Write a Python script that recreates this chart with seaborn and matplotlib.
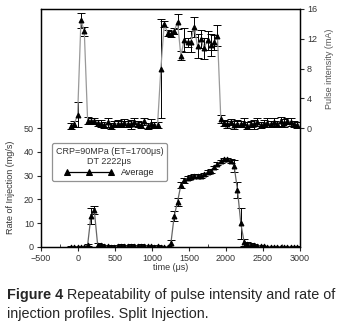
import matplotlib
import numpy as np
import pandas as pd
import matplotlib.pyplot as plt
import seaborn as sns

matplotlib.use('Agg')

# sample times (us)
time_us = [-95, -50, -5, 40, 85, 130, 175, 220, 265, 310, 355, 400, 445, 490, 535, 580,
           625, 670, 715, 760, 805, 850, 895, 940, 985, 1030, 1075, 1120, 1165, 1210,
           1255, 1300, 1345, 1390, 1435, 1480, 1525, 1570, 1615, 1660, 1705, 1750, 1795,
           1840, 1885, 1930, 1975, 2020, 2065, 2110, 2155, 2200, 2245, 2290, 2335, 2380,
           2425, 2470, 2515, 2560, 2605, 2650, 2695, 2740, 2785, 2830, 2875, 2920, 2965]

# pulse intensity (mA), right axis
pulse = [0.3, 0.6, 1.8, 14.5, 13.0, 1.0, 0.9, 1.0, 0.7, 0.6, 0.4, 0.8, 0.3, 0.5, 0.6, 0.5,
         0.7, 0.6, 0.5, 0.8, 0.6, 0.4, 0.9, 0.3, 0.6, 0.4, 0.4, 8.0, 14.0, 12.8,
         12.7, 13.0, 14.3, 9.7, 11.8, 11.5, 11.6, 13.6, 11.0, 12.0, 10.7, 11.8, 11.2,
         11.5, 12.4, 1.2, 0.7, 0.5, 0.8, 0.4, 0.6, 0.5, 0.7, 0.3, 0.6, 0.5,
         0.8, 0.4, 0.6, 0.7, 0.5, 0.8, 0.6, 0.9, 0.7, 1.0, 0.8, 0.5, 0.4]
pulse_err = [0.4, 0.4, 1.7, 1.0, 0.6, 0.5, 0.4, 0.4, 0.4, 0.5, 0.4, 0.6, 0.4, 0.4, 0.5, 0.4,
             0.5, 0.4, 0.6, 0.5, 0.4, 0.4, 0.5, 0.4, 0.6, 0.4, 0.4, 6.6, 0.4, 0.4,
             0.4, 0.4, 1.0, 0.6, 1.6, 0.6, 1.4, 1.3, 1.6, 1.2, 1.4, 1.3, 1.5,
             1.0, 1.4, 0.5, 0.4, 0.5, 0.4, 0.6, 0.5, 0.4, 0.6, 0.5, 0.4, 0.6,
             0.5, 0.4, 0.5, 0.6, 0.4, 0.5, 0.4, 0.6, 0.5, 0.4, 0.5, 0.4, 0.4]

# rate of injection (mg/s), left axis
rate = [0.2, 0.1, 0.0, 0.1, 0.2, 0.8, 13.0, 15.5, 1.0, 0.8, 0.5, 0.3, 0.1, 0.2, 0.3, 0.5,
        0.4, 0.3, 0.6, 0.3, 0.4, 0.6, 0.3, 0.5, 0.4, 0.2, 0.3, 0.2, 0.1, 0.2,
        1.5, 13.0, 19.0, 26.0, 28.0, 29.0, 29.5, 30.0, 30.0, 29.8, 30.5, 31.5, 32.0,
        33.5, 35.0, 36.0, 36.8, 37.0, 36.2, 34.0, 24.0, 10.0, 2.0, 1.2, 1.0, 0.8,
        0.6, 0.4, 0.3, 0.2, 0.2, 0.1, 0.2, 0.1, 0.2, 0.1, 0.2, 0.1, 0.1]
rate_err = [0.3, 0.3, 0.3, 0.3, 0.3, 0.5, 3.2, 1.8, 0.8, 0.6, 0.5, 0.5, 0.4, 0.5, 0.5, 0.6,
            0.4, 0.5, 0.5, 0.4, 0.4, 0.5, 0.4, 0.4, 0.4, 0.3, 0.4, 0.3, 0.3, 0.3,
            1.6, 2.2, 1.6, 1.2, 0.9, 0.7, 0.6, 0.6, 0.7, 0.6, 0.7, 0.8, 0.7,
            0.7, 0.7, 0.6, 0.6, 0.6, 0.8, 2.6, 3.5, 6.5, 1.5, 0.8, 0.6, 0.5,
            0.4, 0.4, 0.3, 0.3, 0.3, 0.3, 0.3, 0.3, 0.3, 0.3, 0.3, 0.3, 0.3]

df = pd.DataFrame({'time': time_us, 'pulse': pulse, 'pulse_err': pulse_err,
                   'rate': rate, 'rate_err': rate_err})

sns.set_style("ticks")
plt.rcParams['font.family'] = ['Liberation Sans', 'DejaVu Sans']

fig = plt.figure(figsize=(3.49, 3.34), dpi=100)
ax = fig.add_axes([41 / 349, 87 / 334, 259 / 349, 238 / 334])
ax2 = ax.twinx()

# rate of injection (left axis)
ax.errorbar(df['time'], df['rate'], yerr=df['rate_err'], fmt='none', ecolor='black',
            elinewidth=0.7, capsize=3, capthick=0.7, zorder=2)
sns.lineplot(data=df, x='time', y='rate', ax=ax, color='#666666', lw=0.9,
             marker='^', markersize=3.5, markerfacecolor='black', markeredgecolor='black',
             label='Average', zorder=3)

# pulse intensity (right axis)
ax2.errorbar(df['time'], df['pulse'], yerr=df['pulse_err'], fmt='none', ecolor='black',
             elinewidth=0.7, capsize=3, capthick=0.7, zorder=2)
sns.lineplot(data=df, x='time', y='pulse', ax=ax2, color='#999999', lw=0.9,
             marker='^', markersize=3.5, markerfacecolor='black', markeredgecolor='black',
             legend=False, zorder=3)

ax.set_xlim(-500, 3000)
ax.set_ylim(0, 100)
ax.set_yticks([0, 10, 20, 30, 40, 50])
ax.set_xticks(np.arange(-500, 3001, 500))
ax.set_xticks(np.arange(-250, 3000, 500), minor=True)
ax2.set_ylim(-16, 16)
ax2.set_yticks([0, 4, 8, 12, 16])

ax.set_xlabel('time (μs)', fontsize=6.5, labelpad=0, color='#333333')
ax.set_ylabel('Rate of Injection (mg/s)', fontsize=6.5, color='#333333')
ax.yaxis.set_label_coords(-0.1, 0.25)
ax2.set_ylabel('Pulse intensity (mA)', fontsize=6.5, color='#555555')
ax2.yaxis.set_label_coords(1.095, 0.75)

for a in (ax, ax2):
    a.tick_params(labelsize=6.5, labelcolor='#333333', length=3, width=0.8, pad=2)
    for s in a.spines.values():
        s.set_linewidth(0.9)
        s.set_color('black')
ax.tick_params(axis='x', which='minor', length=2, direction='in')

leg = ax.legend(title='CRP=90MPa (ET=1700μs)\nDT 2222μs', loc='upper left',
                bbox_to_anchor=(0.025, 0.455), fontsize=6.5, title_fontsize=6.5,
                numpoints=3, handlelength=5.5, frameon=True, fancybox=True,
                borderpad=0.4, labelspacing=0.2)
leg.get_title().set_multialignment('center')
leg.get_title().set_color('#333333')
leg.get_frame().set_edgecolor('#777777')
leg.get_frame().set_linewidth(0.9)
for h in leg.legend_handles:
    h.set_color('black')
    h.set_markersize(5)

# caption
t1 = fig.text(7 / 349, 0.105, 'Figure 4', fontsize=10.4, fontweight='bold')
fig.canvas.draw()
bb = t1.get_window_extent()
fig.text(bb.x1 / fig.bbox.width + 0.01, 0.105, 'Repeatability of pulse intensity and rate of',
         fontsize=10.4)
fig.text(7 / 349, 0.048, 'injection profiles. Split Injection.', fontsize=10.4)

fig.savefig('out.png', dpi=100)
